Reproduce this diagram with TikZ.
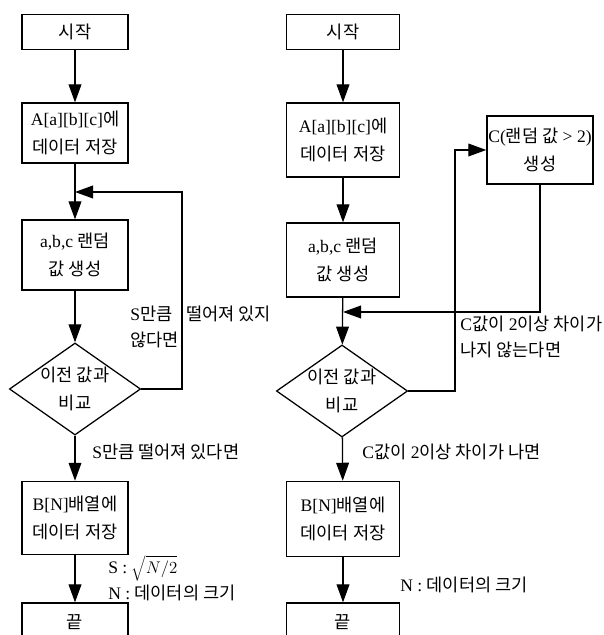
\documentclass[tikz,border=0pt]{standalone}
\usepackage{fontspec}
\setmainfont{Liberation Serif}
\newfontfamily\krfont{Noto Sans CJK KR}
\newcommand\kr[1]{{\krfont #1}}
\usetikzlibrary{arrows.meta,shapes.geometric}

\tikzset{
  flowbox/.style={draw, line width=0.9pt, align=center, inner sep=1pt,
    minimum width=2.65cm, font=\fontsize{12.5pt}{20pt}\selectfont},
  widebox/.style={flowbox, minimum width=2.83cm},
  testbox/.style={draw, line width=0.9pt, diamond, inner sep=0pt,
    minimum width=3.28cm, minimum height=2.3cm},
  note/.style={anchor=west, align=left, inner sep=0pt,
    font=\fontsize{12.5pt}{18pt}\selectfont},
  arr/.style={line width=0.9pt, -{Triangle[width=0.32cm,length=0.45cm]}},
  link/.style={line width=0.9pt}
}

\begin{document}
\begin{tikzpicture}[x=0.025cm, y=-0.025cm]
  \useasboundingbox (0,0) rectangle (603,635);
  \clip (0,0) rectangle (603,635);

  % left flow
  \node[flowbox, minimum height=0.875cm] (start1) at (75,32) {\kr{시작}};
  \node[flowbox, minimum height=1.5cm] (store1) at (75,133)
    {A[a][b][c]\kr{에}\\\kr{데이터 저장}};
  \node[flowbox, minimum height=1.75cm] (gen1) at (75,255)
    {a,b,c \kr{랜덤}\\\kr{값 생성}};
  \node[testbox, label={[font=\fontsize{12.5pt}{20pt}\selectfont, align=center]center:\kr{이전 값과}\\\kr{비교}}]
    (cmp1) at (75,389) {};
  \node[flowbox, minimum height=1.83cm] (save1) at (75,518)
    {B[N]\kr{배열에}\\\kr{데이터 저장}};
  \node[flowbox, minimum height=0.95cm] (end1) at (75,622) {\kr{끝}};
  \coordinate (j1) at (75,192);
  \coordinate (r1) at (182,192);

  \draw[arr] (start1) -- (store1);
  \draw[arr] (store1) -- (gen1);
  \draw[arr] (gen1) -- (cmp1);
  \draw[arr] (cmp1) -- (save1);
  \draw[arr] (save1) -- (end1);
  \draw[arr] (cmp1.east) -| (r1) -- (j1);

  \node[note] (no1a) at (130,327) {S\kr{만큼}\\\kr{않다면}};
  \node[note] (no1b) at (186,314) {\kr{떨어져 있지}};
  \node[note] (yes1) at (92,452) {S\kr{만큼 떨어져 있다면}};
  \node[note] (def1) at (108,578) {S : $\sqrt{N/2}$\\N : \kr{데이터의 크기}};

  % right flow
  \node[widebox, minimum height=0.875cm] (start2) at (343,32) {\kr{시작}};
  \node[widebox, minimum height=1.85cm] (store2) at (343,140)
    {A[a][b][c]\kr{에}\\\kr{데이터 저장}};
  \node[widebox, minimum height=1.85cm] (gen2) at (343,260)
    {a,b,c \kr{랜덤}\\\kr{값 생성}};
  \node[testbox, label={[font=\fontsize{12.5pt}{20pt}\selectfont, align=center]center:\kr{이전 값과}\\\kr{비교}}]
    (cmp2) at (342,391) {};
  \node[widebox, minimum height=1.88cm] (save2) at (343,519)
    {B[N]\kr{배열에}\\\kr{데이터 저장}};
  \node[widebox, minimum height=0.95cm] (end2) at (343,622) {\kr{끝}};
  \node[flowbox, minimum height=1.7cm] (crand) at (540,150)
    {C(\kr{랜덤 값} > 2)\\\kr{생성}};
  \coordinate (j2) at (343,312);
  \coordinate (k2) at (455,391);

  \draw[arr] (start2) -- (store2);
  \draw[arr] (store2) -- (gen2);
  \draw[arr] (gen2) -- (cmp2);
  \draw[arr] (cmp2) -- (save2);
  \draw[arr] (save2) -- (end2);
  \draw[arr] (cmp2.east) -- (k2) |- (crand.west);
  \draw[arr] (crand.south) |- (j2);

  \node[note] (no2) at (460,337) {C\kr{값이} 2\kr{이상 차이가}\\\kr{나지 않는다면}};
  \node[note] (yes2) at (362,452) {C\kr{값이} 2\kr{이상 차이가 나면}};
  \node[note] (def2) at (400,585) {N : \kr{데이터의 크기}};
\end{tikzpicture}
\end{document}
